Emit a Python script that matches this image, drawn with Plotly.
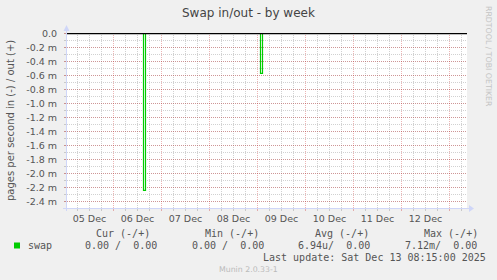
import plotly.graph_objects as go

# ---------------- data ----------------
title_text = "Swap in/out - by week"
y_title = "pages per second in (-) / out (+)"

x_range = ["2025-12-05 00:45", "2025-12-13 08:45"]

# "in" direction (drawn negative), 30-minute samples around the two spikes
in_times = ["2025-12-05 00:45", "2025-12-06 14:30", "2025-12-06 15:00", "2025-12-06 15:30",
            "2025-12-06 16:00", "2025-12-09 01:00", "2025-12-09 01:30", "2025-12-09 02:00",
            "2025-12-09 02:30", "2025-12-13 08:15"]
swap_in = [0.0, 0.0, -0.00224, -0.00224, 0.0, 0.0, -0.00057, -0.00057, 0.0, 0.0]

# "out" direction (drawn positive) – flat zero
out_times = ["2025-12-05 00:45", "2025-12-13 08:15"]
swap_out = [0.0, 0.0]

day_labels = ["05 Dec", "06 Dec", "07 Dec", "08 Dec", "09 Dec", "10 Dec", "11 Dec", "12 Dec"]
day_centers = ["2025-12-05 12:00", "2025-12-06 12:00", "2025-12-07 12:00", "2025-12-08 12:00",
               "2025-12-09 12:00", "2025-12-10 12:00", "2025-12-11 12:00", "2025-12-12 12:00"]

y_tickvals = [0.0, -0.0002, -0.0004, -0.0006, -0.0008, -0.0010, -0.0012,
              -0.0014, -0.0016, -0.0018, -0.0020, -0.0022, -0.0024]
y_ticktext = ["0.0", "-0.2 m", "-0.4 m", "-0.6 m", "-0.8 m", "-1.0 m", "-1.2 m",
              "-1.4 m", "-1.6 m", "-1.8 m", "-2.0 m", "-2.2 m", "-2.4 m"]
y_range = [-0.0024929, 0.0000071]

legend_headers = ["Cur (-/+)", "Min (-/+)", "Avg (-/+)", "Max (-/+)"]
series_name = "swap"
legend_values = ["0.00 /  0.00", "0.00 /  0.00", "6.94u/  0.00", "7.12m/  0.00"]
last_update = "Last update: Sat Dec 13 08:15:00 2025"
footer = "Munin 2.0.33-1"
side_text = "RRDTOOL / TOBI OETIKER"

# ---------------- styling ----------------
W, H = 497, 280
L, T, R, B = 67, 33, 467, 208
GREEN = "#00cc00"
FONT_COL = "#555555"
AXIS_COL = "#cfd6f8"
MGRID = "rgba(200,40,40,0.35)"
GRID = "rgba(140,140,140,0.4)"
DASH = "1px,1px"
SANS = "DejaVu Sans"
MONO = "DejaVu Sans Mono"


def px(x):
    return (x - L) / (R - L)


def py(y):
    return (B - y) / (B - T)


fig = go.Figure()

fig.add_trace(go.Scatter(x=out_times, y=swap_out, mode="lines",
                         line=dict(color=GREEN, width=1, shape="hv"),
                         hoverinfo="skip", showlegend=False))
fig.add_trace(go.Scatter(x=in_times, y=swap_in, mode="lines",
                         line=dict(color=GREEN, width=1.2, shape="hv"),
                         hoverinfo="skip", showlegend=False))
# invisible helper so the grid axis is rendered
fig.add_trace(go.Scatter(x=x_range, y=[0, 0], xaxis="x2", mode="lines",
                         line=dict(width=0), opacity=0, hoverinfo="skip", showlegend=False))

fig.add_hline(y=0, line=dict(color="black", width=1.4), layer="above")

fig.update_layout(
    width=W, height=H,
    margin=dict(l=L, r=W - R, t=T, b=H - B, pad=0),
    paper_bgcolor="#f0f0f0", plot_bgcolor="#ffffff",
    showlegend=False,
    font=dict(family=SANS, color=FONT_COL, size=10),
    xaxis=dict(type="date", range=x_range, tickmode="array",
               tickvals=day_centers, ticktext=day_labels,
               showgrid=False, zeroline=False, showline=False, ticks="",
               tickfont=dict(size=9.5, color=FONT_COL), ticklabelstandoff=3,
               fixedrange=True),
    xaxis2=dict(type="date", range=x_range, overlaying="x", anchor="y", side="bottom",
                tickmode="linear", tick0="2025-12-05 00:00", dtick=86400000,
                showticklabels=False, showgrid=True, gridcolor=MGRID, griddash=DASH,
                gridwidth=1, zeroline=False, showline=False,
                ticks="outside", ticklen=2, tickcolor=MGRID,
                minor=dict(tickmode="linear", tick0="2025-12-05 00:00", dtick=21600000,
                           showgrid=True, gridcolor=GRID, griddash=DASH, gridwidth=1,
                           ticks="outside", ticklen=2, tickcolor=GRID),
                fixedrange=True),
    yaxis=dict(range=y_range, tickmode="array", tickvals=y_tickvals, ticktext=y_ticktext,
               showgrid=True, gridcolor=MGRID, griddash=DASH, gridwidth=1,
               zeroline=False, showline=False,
               ticks="outside", ticklen=2, tickcolor=MGRID,
               minor=dict(tickmode="linear", tick0=0, dtick=0.0001,
                          showgrid=True, gridcolor=GRID, griddash=DASH, gridwidth=1,
                          ticks="outside", ticklen=2, tickcolor=GRID),
               tickfont=dict(size=9.5, color=FONT_COL), ticklabelstandoff=5,
               fixedrange=True),
)

shapes = [
    # left axis with arrow
    dict(type="line", xref="paper", yref="paper", x0=px(66.5), x1=px(66.5), y0=py(211), y1=py(29),
         line=dict(color=AXIS_COL, width=1)),
    dict(type="path", xref="paper", yref="paper",
         path=f"M {px(63.5)},{py(31)} L {px(66.5)},{py(25)} L {px(69.5)},{py(31)} Z",
         fillcolor=AXIS_COL, line=dict(width=0)),
    # bottom axis with arrow
    dict(type="line", xref="paper", yref="paper", x0=px(63), x1=px(470), y0=py(208.5), y1=py(208.5),
         line=dict(color=AXIS_COL, width=1)),
    dict(type="path", xref="paper", yref="paper",
         path=f"M {px(469)},{py(205)} L {px(474)},{py(208.5)} L {px(469)},{py(212)} Z",
         fillcolor=AXIS_COL, line=dict(width=0)),
    # legend colour square
    dict(type="rect", xref="paper", yref="paper", x0=px(14), x1=px(20), y0=py(248.5), y1=py(242.5),
         fillcolor=GREEN, line=dict(width=0)),
]
for s in shapes:
    fig.add_shape(**s)


def ann(text, x, y, size, family=SANS, color=FONT_COL, xanchor="left", angle=0):
    fig.add_annotation(text=text.replace(" ", "\u00a0"), xref="paper", yref="paper",
                       x=px(x), y=py(y), xanchor=xanchor, yanchor="middle",
                       showarrow=False, borderpad=0, textangle=angle,
                       font=dict(family=family, size=size, color=color))


ann(title_text, 248.5, 13, 12, color="#444444", xanchor="center")
ann(y_title, 10, 121, 10, xanchor="center", angle=-90)
ann(side_text, 489, 56, 7.8, color="#c4c4c4", xanchor="center", angle=90)

header_x = [94.7, 204.3, 313.7, 423.3]
value_x = [83.7, 190.7, 297.3, 404.3]
for h, xx in zip(legend_headers, header_x):
    ann(h, xx, 233, 10, family=MONO)
ann(series_name, 26.7, 245.5, 10, family=MONO)
for v, xx in zip(legend_values, value_x):
    ann(v, xx, 245.5, 10, family=MONO)
ann(last_update, 261.7, 257.5, 10, family=MONO)
ann(footer, 248.5, 269, 7.8, color="#bbbbbb", xanchor="center")

fig.write_html("out.html")
